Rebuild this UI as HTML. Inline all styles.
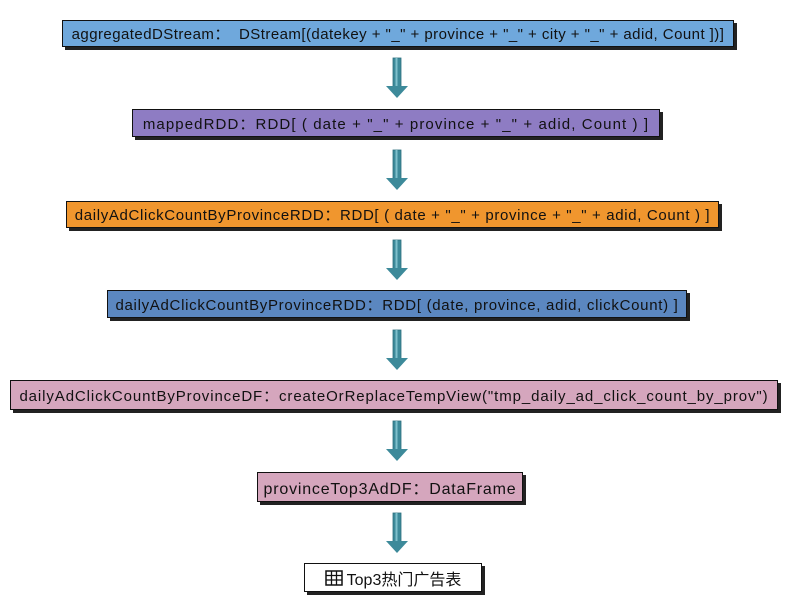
<!DOCTYPE html>
<html><head><meta charset="utf-8"><style>
body{margin:0;width:807px;height:607px;background:#fff;position:relative;overflow:hidden;font-family:"Liberation Sans","Noto Sans CJK SC",sans-serif;}
.b{position:absolute;box-sizing:border-box;border:1.5px solid #111;box-shadow:3px 3px 0 #222;display:flex;align-items:center;justify-content:center;font-size:15px;color:#111;white-space:nowrap;}
</style></head><body>
<div class="b" style="left:62px;top:20px;width:672px;height:27px;background:#6fa8dc;letter-spacing:0.45px">aggregatedDStream：&nbsp; DStream[(datekey + "_" + province + "_" + city + "_" + adid, Count ])]</div>
<div class="b" style="left:132px;top:109px;width:528px;height:28px;background:#8e7cc3;letter-spacing:1.1px">mappedRDD：RDD[ ( date + "_" + province + "_" + adid, Count ) ]</div>
<div class="b" style="left:66px;top:201px;width:653px;height:27px;background:#f0962e;letter-spacing:0.65px">dailyAdClickCountByProvinceRDD：RDD[ ( date + "_" + province + "_" + adid, Count ) ]</div>
<div class="b" style="left:107px;top:290px;width:580px;height:28px;background:#5b87c0;letter-spacing:0.7px">dailyAdClickCountByProvinceRDD：RDD[ (date, province, adid, clickCount) ]</div>
<div class="b" style="left:10px;top:380px;width:768px;height:30px;background:#d5a6bd;letter-spacing:0.9px">dailyAdClickCountByProvinceDF：createOrReplaceTempView("tmp_daily_ad_click_count_by_prov")</div>
<div class="b" style="left:257px;top:472px;width:266px;height:30px;background:#d5a6bd;font-size:16px;letter-spacing:0.8px">provinceTop3AdDF：DataFrame</div>
<div class="b" style="left:304px;top:563px;width:178px;height:29px;background:#fff;font-size:16px">
<svg width="18" height="16" style="margin-right:4px"><rect x="1" y="1" width="16" height="14" fill="none" stroke="#111" stroke-width="1.5"/><path d="M1 5.5H17M1 10H17M6.5 1V15M11.5 1V15" stroke="#111" stroke-width="1.3"/></svg>Top3热门广告表</div>
<svg style="position:absolute;left:0;top:0" width="807" height="607">
<defs><g id="ar"><rect x="-4" y="0" width="8" height="30" fill="#3d8a9a" stroke="#2b6f7e" stroke-width="0.8"/><rect x="-1.5" y="0" width="2" height="30" fill="#7fc0cc"/><polygon points="-11,28 11,28 0,40" fill="#3d8a9a"/></g></defs>
<use href="#ar" x="397" y="58"/>
<use href="#ar" x="397" y="150"/>
<use href="#ar" x="397" y="240"/>
<use href="#ar" x="397" y="330"/>
<use href="#ar" x="397" y="421"/>
<use href="#ar" x="397" y="513"/>
</svg>
</body></html>
